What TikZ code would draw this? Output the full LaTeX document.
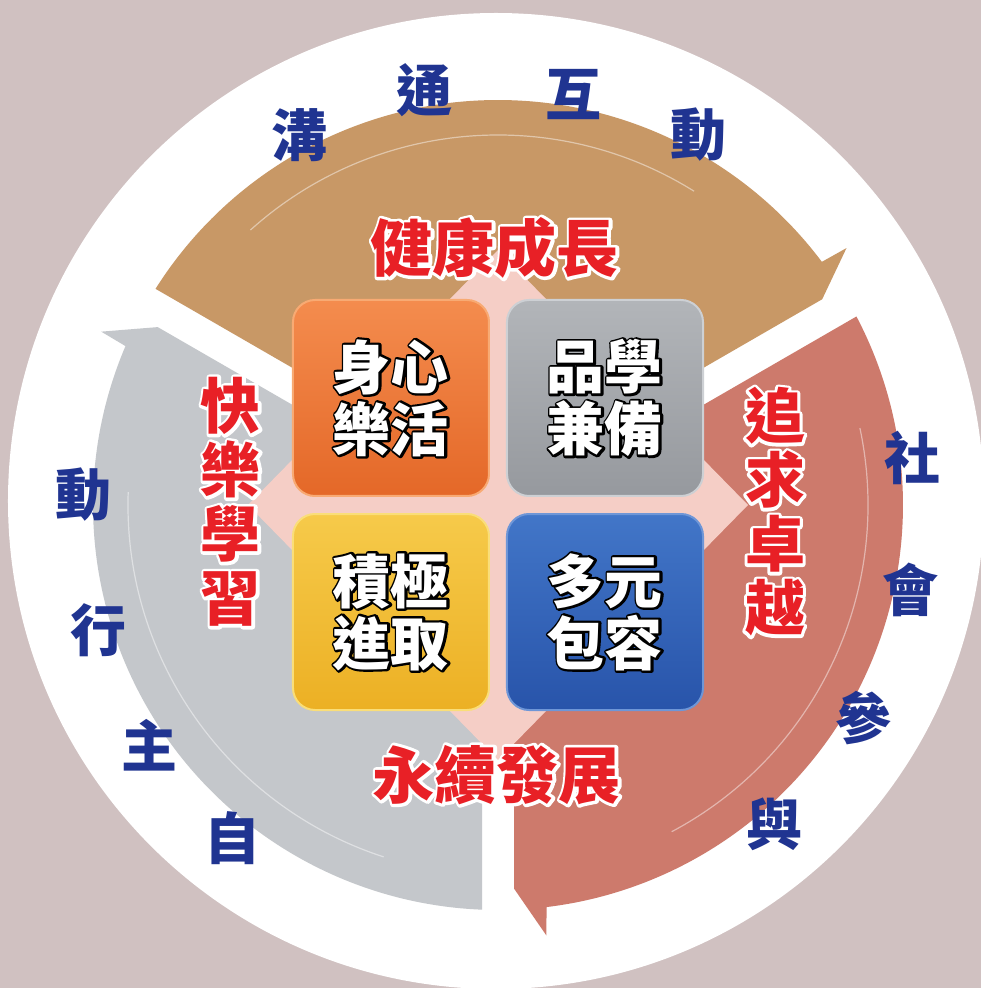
\documentclass[tikz,border=0pt]{standalone}
\usepackage{fontspec}
\newfontfamily\cjk{Noto Sans CJK TC}
\definecolor{bgpink}{RGB}{208,193,193}
\definecolor{arrbrown}{RGB}{200,152,102}
\definecolor{arrred}{RGB}{205,122,108}
\definecolor{arrgray}{RGB}{196,199,203}
\definecolor{diapink}{RGB}{245,206,198}
\definecolor{txtred}{RGB}{232,32,38}
\definecolor{txtblue}{RGB}{32,52,145}
\newcommand\ringtext[3]{\leavevmode\rlap{\special{pdf:literal direct 1 Tr #2 w 1 j}\textcolor{#1}{#3}\special{pdf:literal direct 0 Tr}}#3}

\begin{document}
\begin{tikzpicture}[x=1pt,y=1pt]
\tikzstyle{blueword}=[text=txtblue,inner sep=0pt,font=\cjk\bfseries\fontsize{56}{56}\selectfont]
\tikzstyle{redword}=[text=txtred,inner sep=0pt,align=center,font=\cjk\bfseries\fontsize{60}{64}\selectfont]
\tikzstyle{tile}=[rounded corners=22pt,minimum size=196pt,inner sep=0pt,line width=2pt,text=white,align=center,font=\cjk\bfseries\fontsize{58}{62}\selectfont]
\useasboundingbox (-498,-483) rectangle (483,505);
\fill[bgpink] (-498,-483) rectangle (483,505);
\fill[white] (-2,4) circle (488);
\foreach \col/\rot in {arrbrown/0,arrred/-120,arrgray/120} {
  \begin{scope}[rotate=\rot]
  \fill[\col] (0,18.5) -- (147.74:405) arc[start angle=147.74,end angle=36.9,radius=405] -- (36.4:433) -- (32.4:384) -- cycle;
  \draw[white,opacity=.45,line width=1.2pt] (132:370) arc[start angle=132,end angle=58,radius=370];
  \end{scope}
}
\fill[diapink] (0,255) -- (250,0) -- (0,-255) -- (-250,0) -- cycle;
\node[tile,top color={rgb,255:red,244;green,140;blue,78},bottom color={rgb,255:red,228;green,104;blue,40},draw={rgb,255:red,248;green,170;blue,115}] (body) at (-107,107) {\ringtext{black}{4.5}{身心}\\\ringtext{black}{4.5}{樂活}};
\node[tile,top color={rgb,255:red,178;green,181;blue,185},bottom color={rgb,255:red,150;green,153;blue,158},draw={rgb,255:red,205;green,208;blue,212}] (moral) at (107,107) {\ringtext{black}{4.5}{品學}\\\ringtext{black}{4.5}{兼備}};
\node[tile,top color={rgb,255:red,246;green,202;blue,74},bottom color={rgb,255:red,236;green,176;blue,36},draw={rgb,255:red,250;green,222;blue,120}] (active) at (-107,-107) {\ringtext{black}{4.5}{積極}\\\ringtext{black}{4.5}{進取}};
\node[tile,top color={rgb,255:red,66;green,118;blue,200},bottom color={rgb,255:red,40;green,84;blue,170},draw={rgb,255:red,110;green,150;blue,215}] (divers) at (107,-107) {\ringtext{black}{4.5}{多元}\\\ringtext{black}{4.5}{包容}};
\node[redword,font=\cjk\bfseries\fontsize{62}{62}\selectfont] (health) at (-3,257) {\ringtext{white}{6}{健康成長}};
\node[redword,font=\cjk\bfseries\fontsize{62}{62}\selectfont] (sustain) at (-1,-270) {\ringtext{white}{6}{永續發展}};
\node[redword] (excel) at (277,-7) {\ringtext{white}{6}{追}\\\ringtext{white}{6}{求}\\\ringtext{white}{6}{卓}\\\ringtext{white}{6}{越}};
\node[redword] (happy) at (-267,3) {\ringtext{white}{6}{快}\\\ringtext{white}{6}{樂}\\\ringtext{white}{6}{學}\\\ringtext{white}{6}{習}};
\foreach \w/\a/\r [count=\i] in {溝/118.2/420,通/100/421,互/79.6/417,動/61.6/421,社/6.5/417,會/-11.7/421,參/-30.3/423,與/-49.1/423,動/178.6/415,行/197.4/419,主/214.6/423,自/231.5/426}
  \node[blueword] (w\i) at (\a:\r) {\w};
\end{tikzpicture}
\end{document}
